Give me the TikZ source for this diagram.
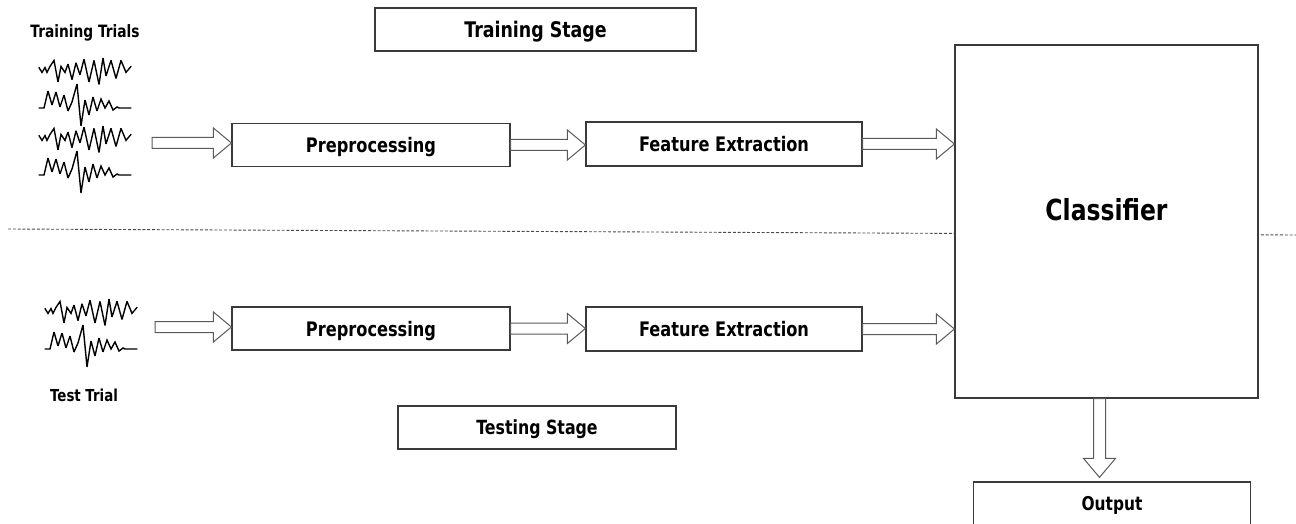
\documentclass[tikz,border=0pt]{standalone}
\usepackage{fontspec}
\setmainfont{DejaVu Sans}[FakeStretch=0.81]
\usetikzlibrary{calc}
\definecolor{boxline}{HTML}{3A3A3A}
\definecolor{arrowline}{HTML}{5A5A5A}
\definecolor{dashline}{HTML}{4A4A4A}

% outlined block arrow, horizontal: tail at #1, tip at #2 (same height as #1)
\newcommand\harrow[2]{%
  \draw[blockarrow] let \p1=(#1), \p2=(#2) in
    (\x1,\y1+5.5pt) -- (\x2-18pt,\y1+5.5pt) -- (\x2-18pt,\y1+15pt) -- (\x2,\y1)
    -- (\x2-18pt,\y1-15pt) -- (\x2-18pt,\y1-5.5pt) -- (\x1,\y1-5.5pt) -- cycle;}
% outlined block arrow, pointing down: tail at #1, tip at #2
\newcommand\varrow[2]{%
  \draw[blockarrow] let \p1=(#1), \p2=(#2) in
    (\x1-6pt,\y1) -- (\x1-6pt,\y2+19pt) -- (\x1-16pt,\y2+19pt) -- (\x1,\y2)
    -- (\x1+16pt,\y2+19pt) -- (\x1+6pt,\y2+19pt) -- (\x1+6pt,\y1) -- cycle;}

\tikzset{
  box/.style={draw=boxline, line width=1.2pt, fill=white, inner sep=0pt,
    text=black, text depth=0pt, font=\bfseries\fontsize{20}{24}\selectfont},
  blockarrow/.style={draw=arrowline, line width=1pt, fill=white, line join=miter},
  caption/.style={text=black, inner sep=0pt, font=\bfseries\fontsize{17}{20}\selectfont},
  wave/.style={draw=black, line width=1.4pt, line join=miter, miter limit=3, line cap=round},
  wavea/.pic={\draw[wave, yscale=1.2] (0,-2) -- (3,2) -- (6,-2) -- (8,2) -- (11,-3) -- (15,-8)
    -- (19,10) -- (22,-3) -- (26,2) -- (29,-5) -- (33,8) -- (37,-6) -- (41,4)
    -- (45,-9) -- (50,10) -- (55,-8) -- (60,12) -- (64,-10) -- (67,5) -- (72,-8)
    -- (77,7) -- (82,-8) -- (87,2) -- (92,-3);},
  waveb/.pic={\draw[wave] (0,0) -- (5,0) -- (9,-17) -- (13,-3) -- (17,-16) -- (21,-1)
    -- (25,-13) -- (29,3) -- (33,-6) -- (38,-24) -- (42,18) -- (46,-8) -- (50,7)
    -- (54,-11) -- (58,3) -- (62,-9) -- (66,0) -- (70,-7) -- (74,2) -- (78,-1)
    -- (80,0) -- (92,0);},
}

\begin{document}
\begin{tikzpicture}[x=1pt,y=-1pt]
\useasboundingbox (0,0) rectangle (1296,524);
\clip (0,0) rectangle (1296,524);

% separator between the two stages
\coordinate (sepL) at (8,229);
\coordinate (sepR) at (1296,235);
\draw[dashline, line width=0.9pt, dash pattern=on 3pt off 1.8pt] (sepL) -- (sepR);

% training signals
\node[caption] (trtitle) at (85,33) {Training Trials};
\pic at (39,70) {wavea};
\pic at (39,108) {waveb};
\pic at (39,138) {wavea};
\pic at (39,175) {waveb};
\coordinate (trsig) at (152,143);

% test signals
\pic at (45,311) {wavea};
\pic at (45,349) {waveb};
\node[caption, font=\bfseries\fontsize{16.5}{20}\selectfont] (tetitle) at (84,395) {Test Trial};
\coordinate (tesig) at (155,327);

% stage labels
\node[box, minimum width=321pt, minimum height=43pt,
      font=\bfseries\fontsize{21.5}{24}\selectfont] (trstage) at (535.5,29.5) {Training Stage};
\node[box, minimum width=278pt, minimum height=43pt,
      font=\bfseries\fontsize{19.5}{24}\selectfont] (testage) at (537,427.5) {Testing Stage};

% processing chains
\node[box, minimum width=278pt, minimum height=43pt] (pre1) at (371,145) {Preprocessing};
\node[box, minimum width=276pt, minimum height=44pt] (feat1) at (724,144) {Feature Extraction};
\node[box, minimum width=278pt, minimum height=43pt] (pre2) at (371,328.5) {Preprocessing};
\node[box, minimum width=276pt, minimum height=44pt] (feat2) at (724,329) {Feature Extraction};

% classifier and output
\node[box, minimum width=303pt, minimum height=353pt] (clf) at (1106.5,221.5) {};
\node[text=black, inner sep=0pt, font=\bfseries\fontsize{29}{34}\selectfont]
  (clflabel) at ([yshift=12pt]clf.center) {Classifier};
\node[box, minimum width=277pt, minimum height=43pt,
      font=\bfseries\fontsize{19}{24}\selectfont] (out) at (1112,503.5) {Output};

% block arrows
\harrow{trsig}{pre1.west}
\harrow{pre1.east}{feat1.west}
\harrow{feat1.east}{clf.west}
\harrow{tesig}{pre2.west}
\harrow{pre2.east}{feat2.west}
\harrow{feat2.east}{clf.west}
\varrow{[xshift=-7pt]clf.south}{[yshift=4pt]out.north}
\end{tikzpicture}
\end{document}
